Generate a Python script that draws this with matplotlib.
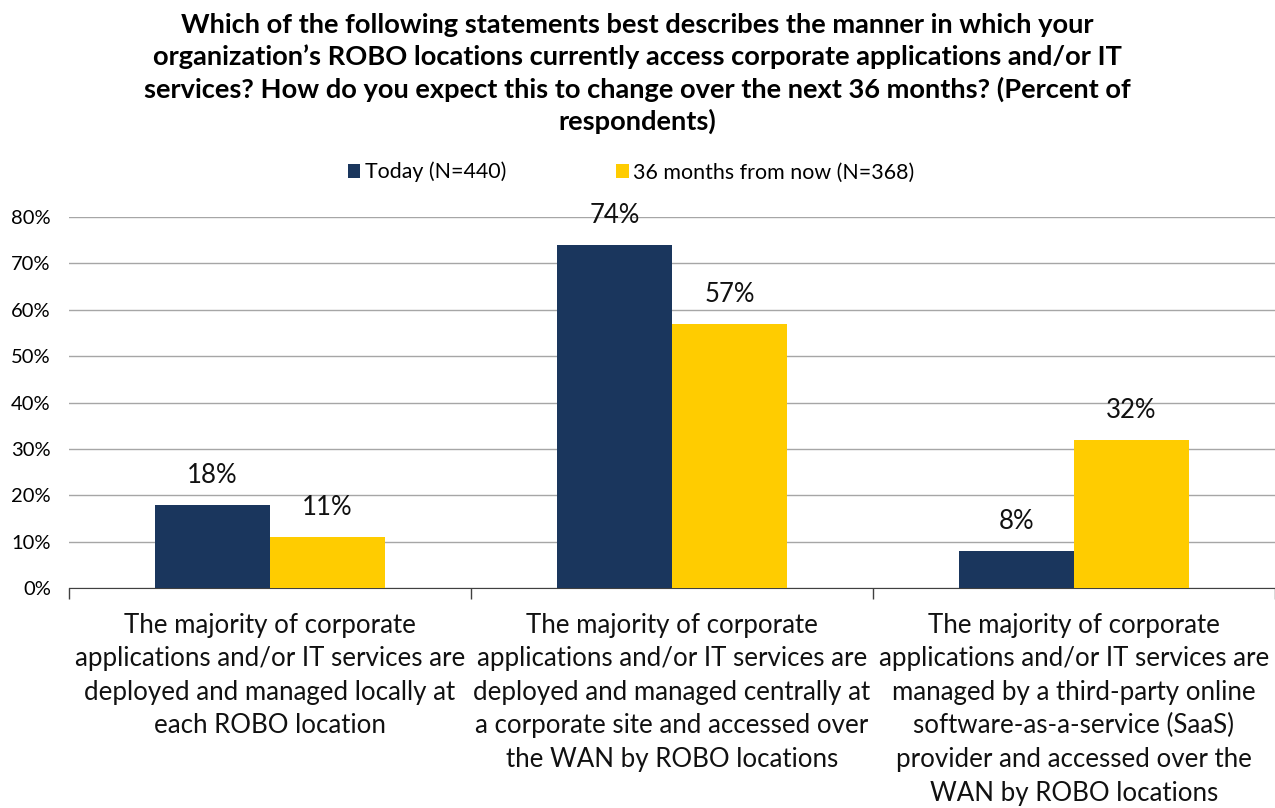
import matplotlib
matplotlib.use("Agg")
import matplotlib.pyplot as plt
import numpy as np

plt.rcParams["font.family"] = ["Lato", "DejaVu Sans"]

CATEGORIES = [
    "The majority of corporate\napplications and/or IT services are\ndeployed and managed locally at\neach ROBO location",
    "The majority of corporate\napplications and/or IT services are\ndeployed and managed centrally at\na corporate site and accessed over\nthe WAN by ROBO locations",
    "The majority of corporate\napplications and/or IT services are\nmanaged by a third-party online\nsoftware-as-a-service (SaaS)\nprovider and accessed over the\nWAN by ROBO locations",
]
TODAY = [18, 74, 8]
FUTURE = [11, 57, 32]
SERIES = ["Today (N=440)", "36 months from now (N=368)"]
TITLE = ("Which of the following statements best describes the manner in which your\n"
         "organization\u2019s ROBO locations currently access corporate applications and/or IT\n"
         "services? How do you expect this to change over the next 36 months? (Percent of\n"
         "respondents)")

NAVY = "#1a365d"
GOLD = "#ffcc00"

fig = plt.figure(figsize=(12.75, 8.08), dpi=100)
ax = fig.add_axes([0.054, 0.2723, 0.946, 0.4591])

x = np.arange(len(CATEGORIES))
w = 0.286
b1 = ax.bar(x - w / 2, TODAY, w, color=NAVY, label=SERIES[0], zorder=3)
b2 = ax.bar(x + w / 2, FUTURE, w, color=GOLD, label=SERIES[1], zorder=3)
for bars in (b1, b2):
    for r in bars:
        ax.text(r.get_x() + r.get_width() / 2, r.get_height() + 3.6, f"{r.get_height():.0f}%",
                ha="center", va="bottom", fontsize=18.5, color="#111111")

ax.set_xlim(-0.5, 2.5)
ax.set_ylim(0, 80)
ax.set_yticks(range(0, 81, 10))
ax.set_yticklabels([f"{v}%" for v in range(0, 81, 10)], fontsize=14.5)
ax.yaxis.grid(True, color="#a6a6a6", linewidth=1, zorder=0)
ax.tick_params(axis="y", length=0, pad=13)
ax.set_xticks([-0.5, 0.5, 1.5, 2.5])
ax.set_xticklabels([])
ax.tick_params(axis="x", length=8, color="#404040", width=1, direction="out")
for xi, lab in zip(x, CATEGORIES):
    ax.text(xi, -5.3, lab, ha="center", va="top", fontsize=18.6, linespacing=1.43,
            color="#111111")
for s in ("top", "right", "left"):
    ax.spines[s].set_visible(False)
ax.spines["bottom"].set_color("#404040")

fig.text(0.5, 0.984, TITLE, ha="center", va="top", fontsize=19.6, fontweight="bold",
         linespacing=1.35)
fig.legend(handles=[b1, b2], loc="center", bbox_to_anchor=(0.495, 0.787), ncol=2,
           frameon=False, fontsize=15.4, handlelength=0.6, handleheight=0.6,
           handletextpad=0.23, columnspacing=5.1)

fig.savefig("out.png", dpi=100)
